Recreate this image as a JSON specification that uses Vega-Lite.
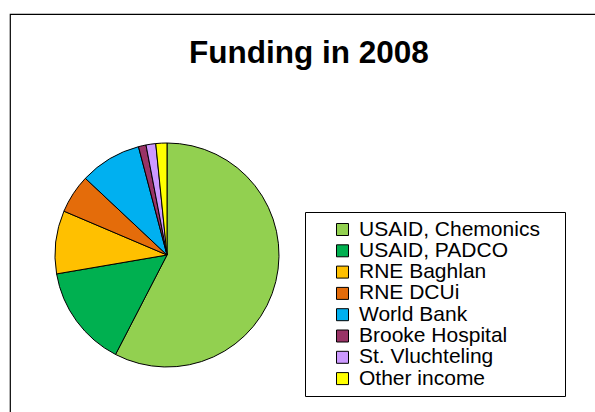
{
  "$schema": "https://vega.github.io/schema/vega-lite/v6.json",
  "width": 595,
  "height": 408,
  "autosize": {"type": "none"},
  "padding": {"left": 10, "top": 14, "right": -10, "bottom": -10},
  "background": "white",
  "view": {"stroke": "#000000", "strokeWidth": 1.2, "fill": "white"},
  "config": {
    "view": {"stroke": "#000000", "strokeWidth": 1.2},
    "font": "Liberation Sans"
  },
  "title": {
    "text": "Funding in 2008",
    "font": "Liberation Sans",
    "fontSize": 31.5,
    "fontWeight": "bold",
    "color": "#000000",
    "anchor": "middle",
    "baseline": "alphabetic",
    "orient": "top",
    "offset": -80,
    "dx": 1.5
  },
  "data": {
    "values": [
      {"source": "USAID, Chemonics", "value": 57.6, "rank": 1},
      {"source": "USAID, PADCO", "value": 14.7, "rank": 2},
      {"source": "RNE Baghlan", "value": 9.1, "rank": 3},
      {"source": "RNE DCUi", "value": 5.6, "rank": 4},
      {"source": "World Bank", "value": 8.9, "rank": 5},
      {"source": "Brooke Hospital", "value": 1.1, "rank": 6},
      {"source": "St. Vluchteling", "value": 1.4, "rank": 7},
      {"source": "Other income", "value": 1.6, "rank": 8}
    ]
  },
  "mark": {"type": "arc", "outerRadius": 112, "x": 157, "y": 241, "stroke": "#000000", "strokeWidth": 1},
  "encoding": {
    "theta": {"field": "value", "type": "quantitative", "stack": true},
    "order": {"field": "rank", "type": "quantitative"},
    "color": {
      "field": "source",
      "type": "nominal",
      "sort": ["USAID, Chemonics", "USAID, PADCO", "RNE Baghlan", "RNE DCUi", "World Bank", "Brooke Hospital", "St. Vluchteling", "Other income"],
      "scale": {
        "domain": ["USAID, Chemonics", "USAID, PADCO", "RNE Baghlan", "RNE DCUi", "World Bank", "Brooke Hospital", "St. Vluchteling", "Other income"],
        "range": ["#92D050", "#00B050", "#FFC000", "#E46C0A", "#00B0F0", "#993366", "#CC99FF", "#FFFF00"]
      },
      "legend": {
        "orient": "none",
        "legendX": 295,
        "legendY": 198,
        "title": " ",
        "titleOrient": "right",
        "titleFontSize": 20,
        "titlePadding": 18,
        "padding": 7,
        "symbolOffset": 20,
        "strokeColor": "#000000",
        "fillColor": "white",
        "symbolType": "square",
        "symbolSize": 144,
        "symbolStrokeColor": "#000000",
        "symbolStrokeWidth": 1,
        "symbolOpacity": 1,
        "labelFont": "Liberation Sans",
        "labelFontSize": 21,
        "labelColor": "#000000",
        "labelOffset": 6,
        "labelLimit": 400,
        "rowPadding": -0.7
      }
    }
  }
}
